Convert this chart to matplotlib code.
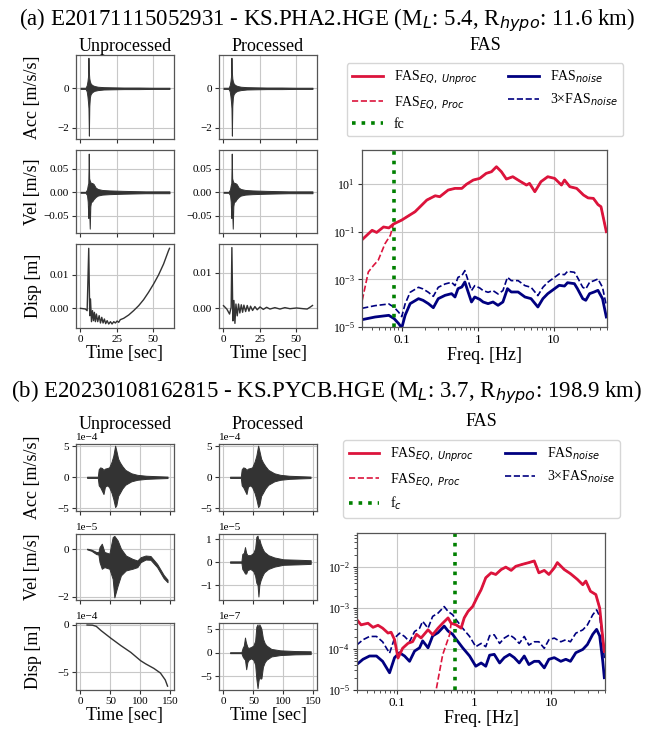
import numpy as np
import matplotlib
matplotlib.use('Agg')
import matplotlib.pyplot as plt

plt.rcParams['font.family'] = ['Liberation Serif', 'DejaVu Serif']
plt.rcParams['mathtext.fontset'] = 'dejavusans'
plt.rcParams['axes.formatter.limits'] = [-3, 4]

# ---------------- (a) event E20171115052931, KS.PHA2.HGE ----------------
title_a = r'(a) E20171115052931 - KS.PHA2.HGE (M$_L$: 5.4, R$_{hypo}$: 11.6 km)'
title_b = r'(b) E20230108162815 - KS.PYCB.HGE (M$_L$: 3.7, R$_{hypo}$: 198.9 km)'

# acceleration envelope (m/s/s) -- identical before/after processing
acc_a_t = [0, 3.5, 4.3, 4.8, 5.2, 5.5, 5.8, 6.1, 6.5, 7.0, 8.0, 9.5, 12, 16, 22, 30, 40, 50, 61.5]
acc_a_up = [0.03, 0.03, 0.15, 0.35, 0.6, 1.55, 0.8, 0.5, 0.35, 0.25, 0.17, 0.12, 0.08, 0.06, 0.05, 0.04, 0.04, 0.03, 0.03]
acc_a_lo = [-0.03, -0.03, -0.15, -0.4, -0.7, -1.0, -2.4, -0.9, -0.45, -0.3, -0.2, -0.13, -0.09, -0.06, -0.05, -0.04, -0.04, -0.03, -0.03]

# velocity envelope (m/s)
vel_a_t = [0, 3.5, 4.5, 5.0, 5.4, 5.7, 6.0, 6.4, 6.8, 7.3, 8, 9, 10.5, 12, 15, 20, 30, 45, 61.5]
vel_a_up = [0.001, 0.001, 0.006, 0.015, 0.02, 0.083, 0.03, 0.025, 0.022, 0.02, 0.02, 0.018, 0.01, 0.007, 0.005, 0.004, 0.003, 0.002, 0.002]
vel_a_lo = [-0.001, -0.001, -0.006, -0.02, -0.055, -0.03, -0.04, -0.078, -0.03, -0.02, -0.02, -0.015, -0.01, -0.007, -0.005, -0.004, -0.003, -0.002, -0.002]

# displacement (m), unprocessed
disp_a_u_t = [0, 3.4, 4.6, 5.7, 6.4, 6.9, 7.6, 8.3, 9.0, 9.6, 10.3, 11.0, 11.9, 12.9, 13.8, 14.7, 15.6, 16.5, 17.4,
              18.4, 19.5, 20.7, 21.8, 23.0, 24.1, 25.3, 26.4, 27.5, 29.8, 33.3, 36.7, 40.2, 43.6, 47.0, 50.5, 53.9,
              57.4, 60.8, 61.5]
disp_a_u = [0, -0.0002, -0.0007, 0.018, -0.0022, 0.0028, -0.004, -0.0007, -0.0037, -0.0012, -0.004, -0.0017, -0.004,
            -0.0022, -0.0044, -0.0027, -0.0044, -0.0032, -0.0046, -0.0037, -0.0047, -0.004, -0.0047, -0.004, -0.0044,
            -0.0038, -0.0042, -0.0034, -0.003, -0.002, -0.0007, 0.0008, 0.0026, 0.0048, 0.0073, 0.01, 0.0133, 0.0173,
            0.018]
# displacement (m), processed
disp_a_p_t = [0, 2.3, 4.2, 5.3, 5.8, 6.5, 7.2, 7.9, 8.6, 9.5, 10.4, 11.3, 12.3, 13.2, 14.1, 15.3, 16.4, 17.6, 18.7,
              20.1, 21.7, 23.3, 25.2, 27.5, 29.8, 32.1, 35.5, 39.0, 42.4, 45.9, 50.5, 55.1, 57.8, 60.1, 61.5]
disp_a_p = [0.00075, -0.0002, -0.0016, 0.0003, 0.017, -0.0035, 0.0022, -0.0042, 0.0012, -0.0021, 0.0012, -0.0013,
            0.001, -0.0011, 0.0009, -0.0009, 0.0008, -0.0008, 0.0006, -0.0006, 0.0005, -0.0004, 0.0004, -0.0003,
            0.0003, -0.0002, 0.0002, -0.0002, 0.0002, -0.0001, 0.0001, -0.0001, -0.0002, 0.0004, 0.0008]

# FAS (a): log10 frequency [Hz] and log10 amplitude
fas_a_f = [-1.52, -1.39, -1.33, -1.24, -1.17, -1.11, -1.0, -0.825, -0.67, -0.56, -0.50, -0.39, -0.30, -0.21, -0.15,
           -0.06, 0.026, 0.11, 0.18, 0.245, 0.31, 0.376, 0.46, 0.55, 0.64, 0.68, 0.75, 0.83, 0.92, 1.01, 1.10, 1.14,
           1.21, 1.30, 1.39, 1.45, 1.52, 1.58, 1.62, 1.69]
fas_a_unproc = [-1.33, -0.94, -1.03, -0.80, -0.84, -0.68, -0.51, -0.16, 0.33, 0.51, 0.47, 0.75, 0.82, 0.82, 0.99,
                1.17, 1.24, 1.45, 1.52, 1.73, 1.52, 1.21, 1.31, 1.13, 0.96, 1.03, 0.68, 1.10, 1.31, 1.24, 0.96, 1.17,
                0.89, 0.82, 0.54, 0.42, 0.40, 0.14, 0.05, -1.0]
fas_a_proc_low_f = [-1.52, -1.44, -1.37, -1.31, -1.22, -1.15]
fas_a_proc_low = [-3.88, -2.69, -2.41, -2.20, -1.50, -1.15]
noise_a_f = [-1.52, -1.35, -1.17, -1.10, -1.04, -1.00, -0.956, -0.89, -0.78, -0.72, -0.65, -0.585, -0.52, -0.43,
             -0.345, -0.30, -0.26, -0.21, -0.17, -0.127, -0.083, -0.04, 0.026, 0.07, 0.135, 0.20, 0.266, 0.33, 0.39,
             0.44, 0.53, 0.62, 0.70, 0.79, 0.856, 0.92, 1.01, 1.07, 1.14, 1.18, 1.27, 1.31, 1.38, 1.42, 1.47, 1.53,
             1.58, 1.64, 1.69]
noise_a = [-4.69, -4.58, -4.51, -4.65, -4.86, -5.04, -4.51, -4.02, -3.81, -3.88, -4.02, -4.19, -3.81, -3.67, -3.60,
           -3.74, -3.39, -3.32, -3.11, -3.53, -3.95, -3.74, -3.84, -3.95, -4.02, -3.95, -4.09, -3.95, -3.39, -3.53,
           -3.53, -3.74, -3.81, -4.16, -3.81, -3.60, -3.39, -3.25, -3.28, -3.14, -3.18, -3.39, -3.81, -3.88, -3.60,
           -3.53, -3.46, -3.81, -4.58]
fc_a = 0.08

# ---------------- (b) event E20230108162815, KS.PYCB.HGE ----------------
acc_b_scale = 1e-4
acc_b_t = [11, 29, 30.5, 33, 36, 38.5, 41, 45, 48, 52, 55, 58, 60, 63, 66, 70, 75, 85, 95, 110, 128, 145.7]
acc_b_up = [0.1, 0.1, 1.3, 1.6, 1.5, 1.2, 1.4, 1.5, 1.6, 2.5, 3.5, 5.1, 4.3, 3.0, 2.4, 1.8, 1.2, 0.65, 0.4, 0.25, 0.18, 0.12]
acc_b_lo = [-0.1, -0.1, -1.3, -1.6, -2.2, -2.7, -1.5, -1.3, -1.6, -2.5, -3.5, -4.8, -4.5, -3.0, -2.5, -1.8, -1.2, -0.65,
            -0.4, -0.25, -0.18, -0.12]

vel_b_scale = 1e-5
vel_b_u_t = [11, 18.2, 26.4, 30, 31.9, 35.7, 40.1, 48.4, 53.9, 56.7, 62.2, 67.7, 76, 87, 95.2, 100.7, 109, 117.2,
             128.2, 139.2, 145.7]
vel_b_u_up = [0.03, -0.01, -0.11, -0.12, 0.1, 0.24, -0.11, -0.18, 0.52, 0.57, 0.38, 0.03, -0.26, -0.40, -0.47, -0.33,
              -0.26, -0.28, -0.61, -1.08, -1.28]
vel_b_u_lo = [0.0, -0.06, -0.2, -0.22, -0.54, -0.82, -0.75, -0.82, -1.25, -2.03, -1.53, -1.1, -0.89, -0.82, -0.75,
              -0.54, -0.43, -0.44, -0.75, -1.22, -1.39]
vel_b_p_t = [11, 30, 31.5, 34, 36, 38, 40, 45, 50, 53, 55, 57, 58.5, 60, 62, 65, 68, 75, 85, 100, 125, 146]
vel_b_p_up = [0.03, 0.03, 0.35, 0.4, 0.65, 0.4, 0.3, 0.3, 0.4, 0.6, 1.1, 1.15, 0.9, 1.0, 0.8, 0.6, 0.45, 0.3, 0.2,
              0.12, 0.1, 0.08]
vel_b_p_lo = [-0.03, -0.03, -0.3, -0.4, -0.5, -0.5, -0.35, -0.3, -0.4, -0.6, -0.9, -1.0, -1.5, -1.0, -0.8, -0.6,
              -0.45, -0.3, -0.2, -0.12, -0.1, -0.08]

disp_b_u_scale = 1e-4
disp_b_u_t = [11, 20, 26.4, 34.6, 51.1, 67.7, 84.2, 100.7, 109, 122.8, 133.8, 141.9, 145.7]
disp_b_u = [0, -0.02, -0.14, -0.6, -1.41, -2.18, -2.89, -3.77, -4.1, -4.58, -5.07, -5.8, -6.45]
disp_b_p_scale = 1e-7
disp_b_p_t = [11, 30, 32, 34, 36, 37, 38, 40, 42, 46, 50, 53, 55, 57, 58.5, 60, 62, 63.5, 66, 69, 72, 80, 95, 120, 146]
disp_b_p_up = [0.1, 0.1, 1.0, 1.5, 3.2, 2.5, 2.0, 1.2, 1.0, 1.2, 1.5, 2.5, 5.5, 6.0, 5.0, 6.0, 5.5, 5.0, 3.0, 2.0,
               1.5, 0.8, 0.5, 0.35, 0.3]
disp_b_p_lo = [-0.1, -0.1, -0.8, -1.2, -1.5, -2.5, -3.5, -2.0, -1.5, -1.2, -1.5, -2.5, -5.5, -7.5, -6.0, -5.0, -5.5,
               -5.4, -3.0, -2.0, -1.5, -0.8, -0.5, -0.35, -0.3]

fas_b_f = [-1.527, -1.47, -1.38, -1.315, -1.25, -1.19, -1.12, -1.08, -1.035, -0.99, -0.93, -0.86, -0.80, -0.75, -0.69,
           -0.60, -0.54, -0.47, -0.41, -0.34, -0.30, -0.235, -0.17, -0.13, -0.08, -0.02, 0.045, 0.09, 0.15, 0.22,
           0.28, 0.35, 0.41, 0.48, 0.54, 0.63, 0.71, 0.78, 0.84, 0.91, 0.97, 1.04, 1.08, 1.17, 1.25, 1.34, 1.41,
           1.45, 1.51, 1.58, 1.63, 1.67, 1.69]
fas_b_unproc = [-3.28, -3.41, -3.37, -3.47, -3.42, -3.49, -3.61, -3.59, -3.77, -4.22, -3.98, -3.86, -3.82, -3.64,
                -3.73, -3.53, -3.65, -3.49, -3.37, -3.24, -3.37, -3.41, -3.49, -3.24, -3.08, -2.96, -2.71, -2.55,
                -2.26, -2.14, -2.18, -2.06, -2.0, -2.08, -1.98, -1.93, -1.89, -1.85, -2.14, -2.08, -2.18, -2.02,
                -1.89, -2.06, -2.16, -2.30, -2.43, -2.34, -2.59, -2.67, -3.0, -3.73, -4.06]
fas_b_proc_low_f = [-0.54, -0.495, -0.41, -0.32]
fas_b_proc_low = [-5.6, -5.0, -4.14, -3.65]
noise_b_f = [-1.527, -1.445, -1.36, -1.27, -1.19, -1.10, -1.035, -0.97, -0.905, -0.84, -0.775, -0.71, -0.67, -0.60,
             -0.54, -0.47, -0.39, -0.34, -0.28, -0.235, -0.15, -0.06, 0.02, 0.09, 0.15, 0.20, 0.26, 0.33, 0.39, 0.46,
             0.52, 0.585, 0.65, 0.71, 0.78, 0.84, 0.91, 0.97, 1.04, 1.125, 1.19, 1.25, 1.32, 1.41, 1.47, 1.54, 1.59,
             1.63, 1.67, 1.69]
noise_b = [-4.38, -4.25, -4.17, -4.17, -4.30, -4.58, -4.21, -4.09, -4.17, -4.30, -4.05, -3.97, -3.80, -3.97, -3.68,
           -3.60, -3.44, -3.56, -3.64, -3.76, -3.97, -4.17, -4.42, -4.34, -4.42, -4.15, -4.13, -4.34, -4.21, -4.13,
           -4.21, -4.34, -4.17, -4.38, -4.30, -4.30, -4.46, -4.25, -4.21, -4.30, -4.25, -4.30, -4.09, -4.01, -3.89,
           -3.64, -3.52, -3.68, -4.30, -4.70]
fc_b = 0.57

# ---------------- layout helpers ----------------
W, H = 657, 731
fig = plt.figure(figsize=(W / 100, H / 100), dpi=100)

WAVE_C = '#333333'
RED = '#DC143C'
BLUE = '#000080'
GREEN = '#008000'
TICK_FS = 8
LAB_FS = 13


def add_ax(x0, y0, x1, y1):
    return fig.add_axes([x0 / W, 1 - y1 / H, (x1 - x0) / W, (y1 - y0) / H])


def style(ax):
    ax.grid(True, color='#c8c8c8', lw=0.8)
    ax.set_axisbelow(True)
    for s in ax.spines.values():
        s.set_color('#555555')
        s.set_linewidth(0.9)
    ax.tick_params(labelsize=TICK_FS, length=3, width=0.8, colors='#333333', labelcolor='black', pad=2)
    ax.yaxis.get_offset_text().set_fontsize(TICK_FS)


def env(ax, t, up, lo, scale=1.0):
    ax.fill_between(t, np.array(lo) * scale, np.array(up) * scale, color=WAVE_C, lw=0.7, edgecolor=WAVE_C)


def line(ax, t, y, scale=1.0):
    ax.plot(t, np.array(y) * scale, color=WAVE_C, lw=1.0)


def wave_axes(xcols, rows, xlim, xticks):
    axs = []
    for (y0, y1) in rows:
        r = []
        for (x0, x1) in xcols:
            ax = add_ax(x0, y0, x1, y1)
            style(ax)
            ax.set_xlim(*xlim)
            ax.set_xticks(xticks)
            r.append(ax)
        axs.append(r)
    for r in axs[:-1]:
        for ax in r:
            ax.tick_params(labelbottom=False)
    for ax in axs[-1]:
        ax.set_xlabel('Time [sec]', fontsize=LAB_FS, labelpad=1)
    axs[0][0].set_title('Unprocessed', fontsize=LAB_FS, pad=2.5)
    axs[0][1].set_title('Processed', fontsize=LAB_FS, pad=2.5)
    labels = ['Acc [m/s/s]', 'Vel [m/s]', 'Disp [m]']
    for (y0, y1), lab in zip(rows, labels):
        fig.text(33 / W, 1 - (y0 + y1) / 2 / H, lab, rotation=90, ha='center', va='center', fontsize=LAB_FS)
    return axs


def fas_axes(x0, y0, x1, y1, ylim, yticks):
    ax = add_ax(x0, y0, x1, y1)
    style(ax)
    ax.set_xscale('log')
    ax.set_yscale('log')
    ax.set_xlim(0.03, 50)
    ax.set_ylim(*ylim)
    ax.set_yticks(yticks)
    ax.set_xticks([0.1, 1, 10])
    ax.set_xticklabels(['0.1', '1', '10'])
    ax.tick_params(axis='x', labelsize=9.5)
    ax.tick_params(axis='y', labelsize=8.5)
    ax.tick_params(which='minor', length=2, width=0.6, colors='#333333')
    ax.grid(False, which='minor')
    ax.set_xlabel('Freq. [Hz]', fontsize=LAB_FS, labelpad=1)
    return ax


def fas_plot(ax, f_u, a_u, f_pl, a_pl, f_n, a_n, fc, fc_label, leg_x, leg_y, title_y):
    fu = 10 ** np.array(f_u)
    au = 10 ** np.array(a_u)
    fpl = 10 ** np.array(f_pl)
    apl = 10 ** np.array(a_pl)
    keep = fu > fpl[-1]
    fp = np.concatenate([fpl, fu[keep]])
    ap = np.concatenate([apl, au[keep]])
    fn = 10 ** np.array(f_n)
    an = 10 ** np.array(a_n)
    h4, = ax.plot(fn, an, color=BLUE, lw=2.0, label=r'FAS$_{noise}$')
    h5, = ax.plot(fn, 3 * an, color=BLUE, lw=1.2, ls='--', label=r'3×FAS$_{noise}$')
    h1, = ax.plot(fu, au, color=RED, lw=2.0, label=r'FAS$_{EQ,\ Unproc}$')
    h2, = ax.plot(fp, ap, color=RED, lw=1.2, ls='--', label=r'FAS$_{EQ,\ Proc}$')
    h3 = ax.axvline(fc, color=GREEN, lw=2.6, ls=':', label=fc_label)
    ax.legend(handles=[h1, h2, h3, h4, h5], ncol=2, loc='upper center', fontsize=10,
              bbox_to_anchor=(leg_x / W, 1 - leg_y / H), bbox_transform=fig.transFigure,
              borderaxespad=0, columnspacing=2.2, handlelength=2.2)
    fig.text(leg_x / W, 1 - title_y / H, 'FAS', ha='center', va='center', fontsize=LAB_FS)


# ---------------- panel (a) ----------------
fig.text(327 / W, 1 - 25 / H, title_a, ha='center', va='baseline', fontsize=16.5)
cols = [(76, 174), (219, 317)]
axa = wave_axes(cols, [(55, 139), (150, 233), (244, 328)], (-3.1, 64.6), [0, 25, 50])
for ax in axa[0]:
    env(ax, acc_a_t, acc_a_up, acc_a_lo)
    ax.set_ylim(-2.57, 1.69)
    ax.set_yticks([-2, 0])
for ax in axa[1]:
    env(ax, vel_a_t, vel_a_up, vel_a_lo)
    ax.set_ylim(-0.0873, 0.0907)
    ax.set_yticks([-0.05, 0, 0.05])
line(axa[2][0], disp_a_u_t, disp_a_u)
axa[2][0].set_ylim(-0.0059, 0.0193)
line(axa[2][1], disp_a_p_t, disp_a_p)
axa[2][1].set_ylim(-0.0055, 0.018)
for ax in axa[2]:
    ax.set_yticks([0, 0.01])

fa = fas_axes(362, 150, 607, 327, (1e-5, 2.7e2), [1e-5, 1e-3, 1e-1, 1e1])
fas_plot(fa, fas_a_f, fas_a_unproc, fas_a_proc_low_f, fas_a_proc_low, noise_a_f, noise_a, fc_a, 'fc',
         485, 63, 45)

# ---------------- panel (b) ----------------
fig.text(327 / W, 1 - 397 / H, title_b, ha='center', va='baseline', fontsize=16.5)
axb = wave_axes(cols, [(444, 511), (534, 600), (623, 690)], (-7.5, 156.5), [0, 50, 100, 150])
for ax in axb[0]:
    env(ax, acc_b_t, acc_b_up, acc_b_lo, acc_b_scale)
    ax.set_ylim(-5.43e-4, 5.37e-4)
    ax.set_yticks([-5e-4, 0, 5e-4])
env(axb[1][0], vel_b_u_t, vel_b_u_up, vel_b_u_lo, vel_b_scale)
axb[1][0].set_ylim(-2.14e-5, 0.65e-5)
axb[1][0].set_yticks([-2e-5, 0])
env(axb[1][1], vel_b_p_t, vel_b_p_up, vel_b_p_lo, vel_b_scale)
axb[1][1].set_ylim(-1.65e-5, 1.22e-5)
axb[1][1].set_yticks([-1e-5, 0, 1e-5])
line(axb[2][0], disp_b_u_t, disp_b_u, disp_b_u_scale)
axb[2][0].set_ylim(-6.86e-4, 0.21e-4)
axb[2][0].set_yticks([-5e-4, 0])
env(axb[2][1], disp_b_p_t, disp_b_p_up, disp_b_p_lo, disp_b_p_scale)
axb[2][1].set_ylim(-7.89e-7, 6.28e-7)
axb[2][1].set_yticks([-5e-7, 0, 5e-7])

fb = fas_axes(357, 533, 605, 690, (1e-5, 0.068), [1e-5, 1e-4, 1e-3, 1e-2])
fas_plot(fb, fas_b_f, fas_b_unproc, fas_b_proc_low_f, fas_b_proc_low, noise_b_f, noise_b, fc_b, r'f$_c$',
         481.5, 440, 422)

fig.savefig('out.png', dpi=100)
